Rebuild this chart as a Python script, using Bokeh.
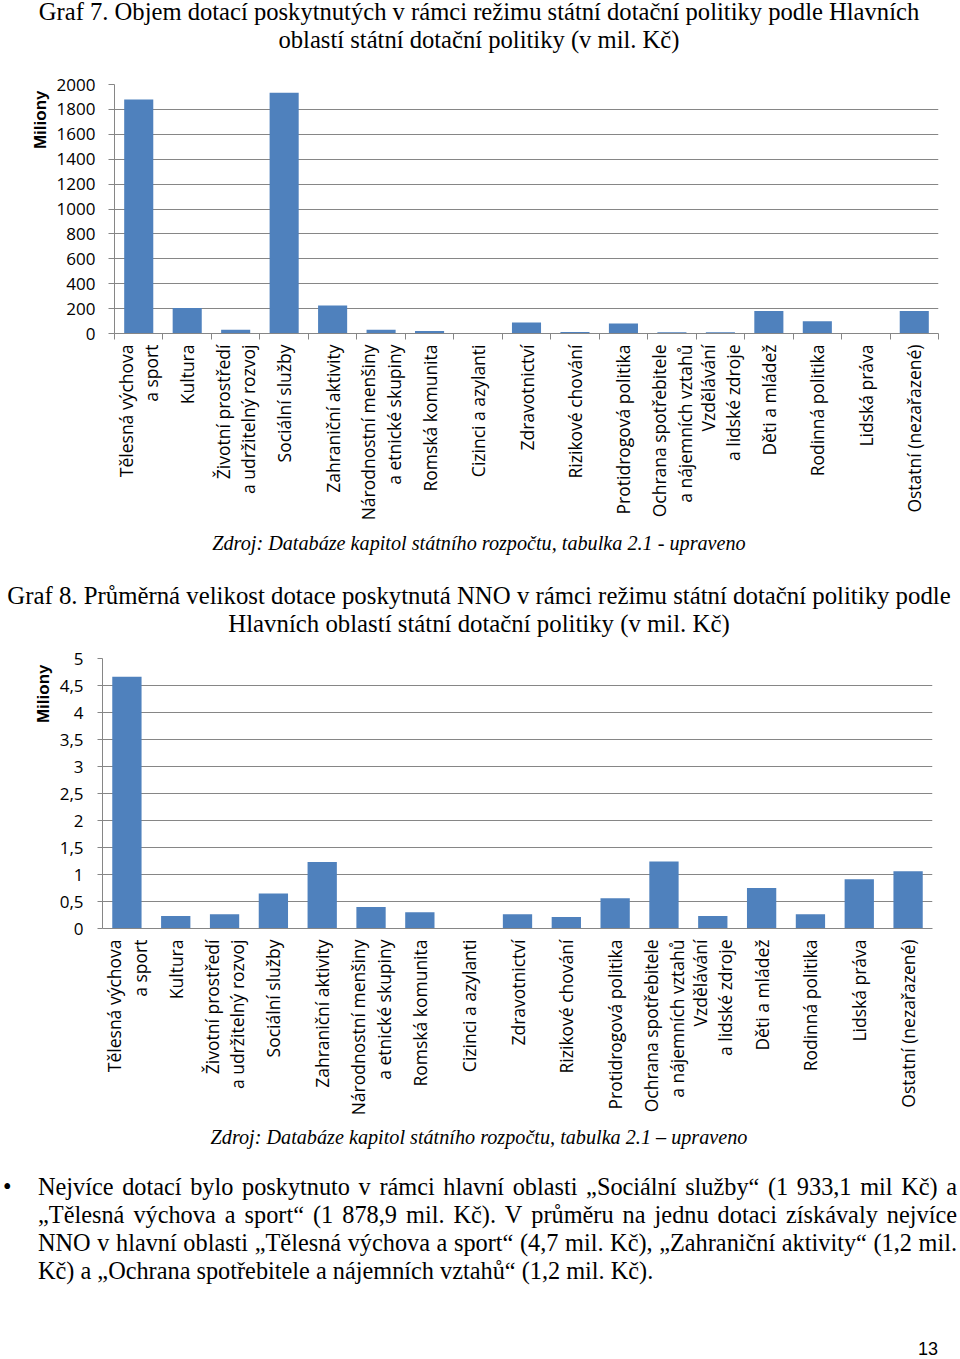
from math import pi
from bokeh.plotting import figure
from bokeh.models import Range1d, LinearAxis, FixedTicker, Grid, Title, Div
from bokeh.layouts import column
from bokeh.embed import file_html
from bokeh.resources import INLINE

# ---------------- data ----------------
categories = [
    "Tělesná výchova\na sport", "Kultura", "Životní prostředí\na udržitelný rozvoj",
    "Sociální služby", "Zahraniční aktivity", "Národnostní menšiny\na etnické skupiny",
    "Romská komunita", "Cizinci a azylanti", "Zdravotnictví", "Rizikové chování",
    "Protidrogová politika", "Ochrana spotřebitele\na nájemních vztahů",
    "Vzdělávání\na lidské zdroje", "Děti a mládež", "Rodinná politika",
    "Lidská práva", "Ostatní (nezařazené)",
]
volume_mil = [1878.9, 205, 30, 1933.1, 225, 30, 20, 0, 88, 13, 80, 10, 10, 181, 99, 3, 181]
average_mil = [4.66, 0.23, 0.265, 0.65, 1.23, 0.40, 0.30, 0, 0.265, 0.215, 0.56, 1.24,
               0.23, 0.75, 0.265, 0.91, 1.06]
y1_ticks = [0, 200, 400, 600, 800, 1000, 1200, 1400, 1600, 1800, 2000]
y2_ticks = [0, 0.5, 1, 1.5, 2, 2.5, 3, 3.5, 4, 4.5, 5]
y2_tick_labels = ["0", "0,5", "1", "1,5", "2", "2,5", "3", "3,5", "4", "4,5", "5"]
y_axis_title = "Miliony"

title1 = ["Graf 7. Objem dotací poskytnutých v rámci režimu státní dotační politiky podle Hlavních",
          "oblastí státní dotační politiky (v mil. Kč)"]
source1 = "Zdroj: Databáze kapitol státního rozpočtu, tabulka 2.1 - upraveno"
title2 = ["Graf 8. Průměrná velikost dotace poskytnutá NNO v rámci režimu státní dotační politiky podle",
          "Hlavních oblastí státní dotační politiky (v mil. Kč)"]
source2 = "Zdroj: Databáze kapitol státního rozpočtu, tabulka 2.1 – upraveno"
paragraph = [
    "Nejvíce dotací bylo poskytnuto v&nbsp;rámci hlavní oblasti „Sociální služby“ (1&nbsp;933,1 mil Kč) a",
    "„Tělesná výchova a sport“ (1&nbsp;878,9 mil. Kč). V&nbsp;průměru na jednu dotaci získávaly nejvíce",
    "NNO v&nbsp;hlavní oblasti „Tělesná výchova a sport“ (4,7 mil. Kč), „Zahraniční aktivity“ (1,2 mil.",
    "Kč) a „Ochrana spotřebitele a nájemních vztahů“ (1,2 mil. Kč).",
]
page_number = "13"

BAR = "#4F81BD"
GRID = "#868686"
TICK_FONT = "Open Sans"
SERIF = "Liberation Serif"
W = 958


def make_chart(values, y_ticks, y_end, height, left, frame_w, top, bottom,
               x_minor_out, x_std, y_tick_out, y_std, title_standoff, y_overrides=None):
    n = len(values)
    p = figure(width=W, height=height, x_range=Range1d(0, n), y_range=Range1d(0, y_end),
               x_axis_type=None, y_axis_type=None, output_backend="svg",
               toolbar_location=None, title_location=None,
               min_border_left=left, min_border_right=W - left - frame_w,
               min_border_top=top, min_border_bottom=bottom,
               outline_line_color=None, background_fill_color="white",
               border_fill_color="white")
    centers = [i + 0.5 for i in range(n)]
    bounds = list(range(n + 1))
    p.vbar(x=centers, top=values, width=0.6, fill_color=BAR, line_color=None)

    yt = FixedTicker(ticks=y_ticks)
    yax = LinearAxis(ticker=yt, axis_line_color=GRID, major_tick_line_color=GRID,
                     major_tick_out=y_tick_out, major_tick_in=0, minor_tick_out=0, minor_tick_in=0,
                     major_label_standoff=y_std, major_label_text_font=TICK_FONT,
                     major_label_text_font_size="17px", major_label_text_color="#000000")
    if y_overrides:
        yax.major_label_overrides = y_overrides
    p.add_layout(yax, "left")
    p.add_layout(Grid(dimension=1, ticker=yt, grid_line_color=GRID))

    xt = FixedTicker(ticks=centers, minor_ticks=bounds)
    xax = LinearAxis(ticker=xt, axis_line_color=GRID,
                     major_tick_out=0, major_tick_in=0,
                     minor_tick_out=x_minor_out, minor_tick_in=0, minor_tick_line_color=GRID,
                     major_label_overrides=dict(zip(centers, categories)),
                     major_label_orientation=pi / 2, major_label_standoff=x_std,
                     major_label_text_font=TICK_FONT, major_label_text_font_size="17.5px",
                     major_label_text_color="#000000", major_label_text_line_height=1.05)
    p.add_layout(xax, "below")

    p.add_layout(Title(text=y_axis_title, align="right", text_font="Liberation Sans",
                       text_font_style="bold", text_font_size="17px", text_color="#000000",
                       standoff=title_standoff, offset=6), "left")
    return p


p1 = make_chart(volume_mil, y1_ticks, 2000, height=458, left=114, frame_w=824, top=14,
                bottom=195, x_minor_out=6, x_std=5, y_tick_out=6, y_std=13, title_standoff=8)
p2 = make_chart(average_mil, y2_ticks, 5, height=482, left=102, frame_w=830, top=18,
                bottom=194, x_minor_out=0, x_std=11, y_tick_out=5, y_std=14, title_standoff=8,
                y_overrides=dict(zip(y2_ticks, y2_tick_labels)))


def title_div(lines, height, shift, size):
    html = (f'<div style="position:relative;top:{shift}px;width:{W}px;text-align:center;'
            f'font-family:\'{SERIF}\';font-size:{size}px;line-height:28px;color:#000;'
            f'white-space:nowrap">' + "<br>".join(lines) + "</div>")
    return Div(text=html, width=W, height=height, margin=0)


def source_div(text, height):
    html = (f'<div style="width:{W}px;text-align:center;font-family:\'{SERIF}\';font-size:20.2px;'
            f'font-style:italic;line-height:30px;color:#000;white-space:nowrap">{text}</div>')
    return Div(text=html, width=W, height=height, margin=0)


lines_html = ""
for i, line in enumerate(paragraph):
    last = i == len(paragraph) - 1
    align = "text-align:left;" if last else "text-align:justify;text-align-last:justify;"
    lines_html += f'<div style="{align}white-space:nowrap;height:28px">{line}</div>'
para_html = (
    f'<div style="position:relative;width:{W}px;height:207px;font-family:\'{SERIF}\';'
    f'font-size:24.3px;line-height:28px;color:#000">'
    f'<div style="position:absolute;left:3px;top:21px;width:24px">•</div>'
    f'<div style="position:absolute;left:38px;top:21px;width:919px">{lines_html}</div>'
    f'<div style="position:absolute;right:20px;top:187px;font-family:\'Liberation Sans\';'
    f'font-size:18px;line-height:20px">{page_number}</div>'
    f'</div>'
)
para = Div(text=para_html, width=W, height=207, margin=0)

# each chart sits in its own column so that bokeh does not align the two plot frames
layout = column(
    column(title_div(title1, 70, -2, 24.6), p1, source_div(source1, 32), spacing=0),
    column(title_div(title2, 80, 22, 24.8), spacing=0),
    column(p2, spacing=0),
    column(source_div(source2, 30), para, spacing=0),
    spacing=0,
)

with open("out.html", "w") as f:
    f.write(file_html(layout, INLINE))
